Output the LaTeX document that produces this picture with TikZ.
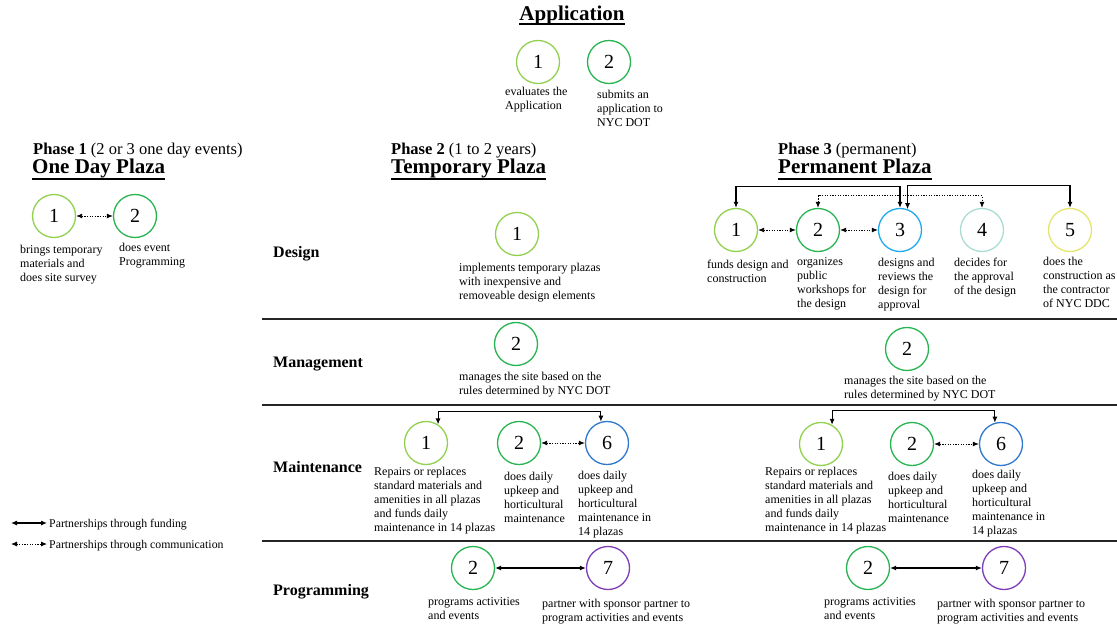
\documentclass[tikz,border=0pt]{standalone}
\usepackage{fontspec}
\setmainfont{Liberation Serif}
\usetikzlibrary{arrows.meta,calc}
\definecolor{cA}{RGB}{146,208,80}
\definecolor{cB}{RGB}{40,180,80}
\definecolor{cC}{RGB}{30,170,235}
\definecolor{cD}{RGB}{170,220,212}
\definecolor{cE}{RGB}{228,228,110}
\definecolor{cF}{RGB}{46,120,205}
\definecolor{cG}{RGB}{125,60,185}
\begin{document}
\begin{tikzpicture}[x=1pt,y=-1pt,
  num/.style={circle,draw=#1,line width=1.3pt,minimum size=43pt,inner sep=0pt,font=\fontsize{20}{20}\selectfont},
  lbl/.style={anchor=north west,inner sep=0pt,align=left,font=\fontsize{12}{14}\selectfont},
  rowlbl/.style={anchor=base west,inner sep=0pt,font=\fontsize{16}{18}\selectfont\bfseries},
  phase/.style={anchor=base west,inner sep=0pt,font=\fontsize{16.5}{18}\selectfont},
  ttl/.style={anchor=base west,inner sep=0pt,font=\fontsize{21}{24}\selectfont\bfseries},
  uline/.style={line width=2pt},
  fund/.style={{Latex[length=6pt,width=5pt]}-{Latex[length=6pt,width=5pt]},line width=1.1pt},
  comm/.style={{Latex[length=6pt,width=5pt]}-{Latex[length=6pt,width=5pt]},line width=0.9pt,dash pattern=on 1.3pt off 1.3pt},
  rule/.style={line width=1.4pt,draw=black!85},
  leg/.style={anchor=base west,inner sep=0pt,font=\fontsize{11.8}{13}\selectfont}
]
\useasboundingbox (0,0) rectangle (1117,626);

% Application
\node[anchor=base,inner sep=0pt,font=\fontsize{21}{24}\selectfont\bfseries] (app) at (572,21) {Application};
\draw[uline] ($(app.base west)+(0,3.5)$) -- ($(app.base east)+(0,3.5)$);
\node[num=cA] (a1) at (538,62) {1};
\node[num=cB] (a2) at (609,62) {2};
\node[lbl] (a1t) at (505,86) {\strut evaluates the\\Application};
\node[lbl] (a2t) at (597,88) {\strut submits an\\application to\\NYC DOT};

% Phase headers
\node[phase] (ph1) at (33,154) {\textbf{Phase 1} (2 or 3 one day events)};
\node[ttl] (odp) at (32,173) {One Day Plaza};
\draw[uline] ($(odp.base west)+(0,5.5)$) -- ($(odp.base east)+(0,5.5)$);
\node[phase] (ph2) at (391,154) {\textbf{Phase 2} (1 to 2 years)};
\node[ttl] (tmp) at (391,173) {Temporary Plaza};
\draw[uline] ($(tmp.base west)+(0,5.5)$) -- ($(tmp.base east)+(0,5.5)$);
\node[phase] (ph3) at (778,154) {\textbf{Phase 3} (permanent)};
\node[ttl] (prm) at (778,173) {Permanent Plaza};
\draw[uline] ($(prm.base west)+(0,5.5)$) -- ($(prm.base east)+(0,5.5)$);

% Phase 1
\node[num=cA] (o1) at (54,216) {1};
\node[num=cB] (o2) at (135,216) {2};
\draw[comm] (o1) -- (o2);
\node[lbl] (o1t) at (20,243) {\strut brings temporary\\materials and\\does site survey};
\node[lbl] (o2t) at (119,241) {\strut does event\\Programming};

% Row labels and rules
\node[rowlbl] (rD) at (273,257) {Design};
\node[rowlbl] (rM) at (273,367) {Management};
\node[rowlbl] (rN) at (273,472) {Maintenance};
\node[rowlbl] (rP) at (273,595) {Programming};
\draw[rule] (262,319) -- (1117,319);
\draw[rule] (262,405) -- (1117,405);
\draw[rule] (262,541) -- (1117,541);

% Phase 2 Design
\node[num=cA] (td1) at (517,234) {1};
\node[lbl] (td1t) at (459,261) {\strut implements temporary plazas\\with inexpensive and\\removeable design elements};

% Phase 3 Design
\node[num=cA] (pd1) at (736,230) {1};
\node[num=cB] (pd2) at (818,230) {2};
\node[num=cC] (pd3) at (900,230) {3};
\node[num=cD] (pd4) at (982,230) {4};
\node[num=cE] (pd5) at (1070,230) {5};
\draw[comm] (pd1) -- (pd2);
\draw[comm] (pd2) -- (pd3);
\draw[comm] (pd2.north) -- ++(0,-12) -| (pd4.north);
\draw[fund] (pd1.north) -- ++(0,-21) -| (pd3.north);
\draw[fund] (pd3.70) -- ++(0,-24) -| (pd5.north);
\node[lbl] (pd1t) at (707,258) {\strut funds design and\\construction};
\node[lbl] (pd2t) at (797,255) {\strut organizes\\public\\workshops for\\the design};
\node[lbl] (pd3t) at (878,256) {\strut designs and\\reviews the\\design for\\approval};
\node[lbl] (pd4t) at (954,256) {\strut decides for\\the approval\\of the design};
\node[lbl] (pd5t) at (1043,255) {\strut does the\\construction as\\the contractor\\of NYC DDC};

% Management
\node[num=cB] (tm2) at (516,344) {2};
\node[lbl] (tm2t) at (459,370) {\strut manages the site based on the\\rules determined by NYC DOT};
\node[num=cB] (pm2) at (907,349) {2};
\node[lbl] (pm2t) at (844,374) {\strut manages the site based on the\\rules determined by NYC DOT};

% Maintenance Phase 2
\node[num=cA] (tn1) at (426,443) {1};
\node[num=cB] (tn2) at (519,443) {2};
\node[num=cF] (tn6) at (607,443) {6};
\draw[comm] (tn2) -- (tn6);
\draw[fund] (tn1.57) -- ++(0,-12.5) -| (tn6.106);
\node[lbl] (tn1t) at (374,465) {\strut Repairs or replaces\\standard materials and\\amenities in all plazas\\and funds daily\\maintenance in 14 plazas};
\node[lbl] (tn2t) at (504,470) {\strut does daily\\upkeep and\\horticultural\\maintenance};
\node[lbl] (tn6t) at (578,469) {\strut does daily\\upkeep and\\horticultural\\maintenance in\\14 plazas};

% Maintenance Phase 3
\node[num=cA] (pn1) at (821,444) {1};
\node[num=cB] (pn2) at (912,444) {2};
\node[num=cF] (pn6) at (1001,444) {6};
\draw[comm] (pn2) -- (pn6);
\draw[fund] (pn1.60) -- ++(0,-14) -| (pn6.106);
\node[lbl] (pn1t) at (765,465) {\strut Repairs or replaces\\standard materials and\\amenities in all plazas\\and funds daily\\maintenance in 14 plazas};
\node[lbl] (pn2t) at (888,470) {\strut does daily\\upkeep and\\horticultural\\maintenance};
\node[lbl] (pn6t) at (972,468) {\strut does daily\\upkeep and\\horticultural\\maintenance in\\14 plazas};

% Programming
\node[num=cB] (tp2) at (473,568) {2};
\node[num=cG] (tp7) at (608,568) {7};
\draw[fund] (tp2) -- (tp7);
\node[lbl] (tp2t) at (428,595) {\strut programs activities\\and events};
\node[lbl] (tp7t) at (542,597) {\strut partner with sponsor partner to\\program activities and events};
\node[num=cB] (pp2) at (868,568) {2};
\node[num=cG] (pp7) at (1004,568) {7};
\draw[fund] (pp2) -- (pp7);
\node[lbl] (pp2t) at (824,595) {\strut programs activities\\and events};
\node[lbl] (pp7t) at (937,597) {\strut partner with sponsor partner to\\program activities and events};

% Legend
\coordinate (lfa) at (11,523);
\coordinate (lfb) at (47,523);
\coordinate (lca) at (11,544);
\coordinate (lcb) at (47,544);
\draw[fund] (lfa) -- (lfb);
\draw[comm] (lca) -- (lcb);
\node[leg] (lft) at (49,527) {Partnerships through funding};
\node[leg] (lct) at (49,548) {Partnerships through communication};
\end{tikzpicture}
\end{document}
